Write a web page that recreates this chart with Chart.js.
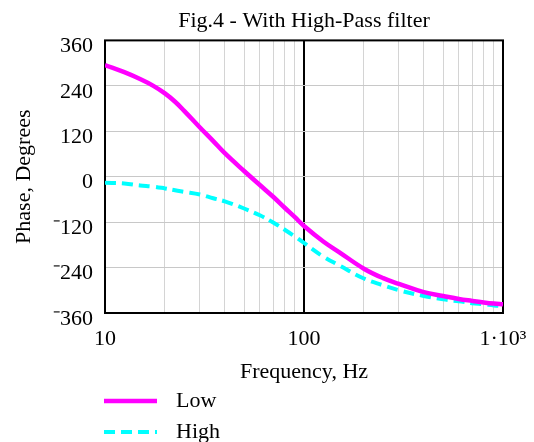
<!DOCTYPE html>
<html>
<head>
<meta charset="utf-8">
<title>Fig.4 - With High-Pass filter</title>
<script src="https://cdn.jsdelivr.net/npm/chart.js@4"></script>
<style>
  html, body { margin: 0; padding: 0; background: #fff; }
  canvas { display: block; }
</style>
</head>
<body>
<canvas id="phaseChart" width="534" height="442"></canvas>
<script>
const freqs = [10, 12.5, 15, 17.5, 20, 22.5, 25, 30, 35, 40, 50, 60, 70, 80, 90, 100, 125, 150, 200, 250, 300, 400, 500, 600, 700, 800, 900, 1000];
const phaseLow = [295, 276, 258, 240, 220, 198, 174, 130, 94, 62, 15, -22, -53, -82, -107, -130, -171, -199, -243, -268, -283, -305, -315, -323, -328, -332, -335, -337];
const phaseHigh = [-16, -18, -23, -26, -31, -36, -40, -47, -57, -65, -84, -102, -121, -140, -158, -175, -211, -234, -269, -287, -300, -315, -324, -329, -334, -337, -340, -342];

// grid lines on the frequency axis, labels only on the decades
const freqGrid = [10, 20, 30, 40, 50, 60, 70, 80, 90, 100, 200, 300, 400, 500, 600, 700, 800, 900, 1000];
const decadeLabels = { 10: '10', 100: '100', 1000: '1\u00b710\u00b3' };

const serif = "'Liberation Serif', 'Times New Roman', serif";
Chart.defaults.font.family = serif;
Chart.defaults.font.size = 22;
Chart.defaults.color = '#000';

const toPoints = vals => freqs.map((f, i) => ({ x: f, y: vals[i] }));

// black box round the plot area
const frame = {
    id: 'frame',
    beforeDatasetsDraw(chart) {
        const { ctx, chartArea: a } = chart;
        ctx.save();
        ctx.strokeStyle = '#000';
        ctx.lineWidth = 2;
        ctx.strokeRect(a.left, a.top, a.right - a.left, a.bottom - a.top);
        ctx.restore();
    }
};

// legend stacked in rows under the axis title
const rowLegend = {
    id: 'rowLegend',
    afterDraw(chart) {
        const { ctx } = chart;
        const x0 = chart.chartArea.left - 1;
        const y0 = chart.scales.x.bottom + 12;
        ctx.save();
        chart.data.datasets.forEach((ds, i) => {
            const y = y0 + i * 31;
            ctx.beginPath();
            ctx.strokeStyle = ds.borderColor;
            ctx.lineWidth = ds.borderWidth;
            ctx.setLineDash(ds.borderDash || []);
            ctx.moveTo(x0, y);
            ctx.lineTo(x0 + 53, y);
            ctx.stroke();
            ctx.setLineDash([]);
            ctx.fillStyle = '#000';
            ctx.font = '22px ' + serif;
            ctx.textBaseline = 'middle';
            ctx.fillText(ds.label, x0 + 72, y);
        });
        ctx.restore();
    }
};

new Chart(document.getElementById('phaseChart'), {
    type: 'line',
    data: {
        datasets: [{
            label: 'Low',
            data: toPoints(phaseLow),
            borderColor: '#ff00ff',
            borderWidth: 4.5,
            pointRadius: 0,
            tension: 0.4,
            fill: false
        }, {
            label: 'High',
            data: toPoints(phaseHigh),
            borderColor: '#00ffff',
            borderWidth: 4,
            borderDash: [11, 6],
            pointRadius: 0,
            tension: 0.4,
            fill: false
        }]
    },
    options: {
        responsive: false,
        animation: false,
        layout: { padding: { left: 7, right: 31, top: 0, bottom: 53 } },
        plugins: {
            legend: { display: false },
            tooltip: { enabled: false },
            title: {
                display: true,
                text: 'Fig.4 - With High-Pass filter',
                fullSize: false,
                color: '#000',
                font: { size: 22, weight: 'normal' },
                padding: { top: 8, bottom: 6 }
            }
        },
        scales: {
            x: {
                type: 'logarithmic',
                min: 10,
                max: 1000,
                afterBuildTicks: scale => {
                    scale.ticks = freqGrid.map(v => ({ value: v }));
                },
                afterFit: scale => {
                    scale.height = 76;
                    scale.paddingLeft = 0;
                    scale.paddingRight = 0;
                },
                ticks: {
                    autoSkip: false,
                    maxRotation: 0,
                    padding: 13,
                    callback: v => decadeLabels[v] || ''
                },
                grid: {
                    drawTicks: false,
                    color: ctx => (ctx.tick && ctx.tick.value === 100 ? '#000' : '#d4d4d4'),
                    lineWidth: ctx => (ctx.tick && ctx.tick.value === 100 ? 2 : 1)
                },
                border: { display: false },
                title: {
                    display: true,
                    text: 'Frequency, Hz',
                    padding: { top: 8, bottom: 4 }
                }
            },
            y: {
                min: -360,
                max: 360,
                afterFit: scale => { scale.width = 98; },
                ticks: {
                    stepSize: 120,
                    padding: 12,
                    labelOffset: 6,
                    callback: v => (v < 0 ? '\u207b' + Math.abs(v) : String(v))
                },
                grid: { drawTicks: false, color: '#c8c8c8', lineWidth: 1 },
                border: { display: false },
                title: {
                    display: true,
                    text: 'Phase, Degrees',
                    padding: { top: 4, bottom: 4 }
                }
            }
        }
    },
    plugins: [frame, rowLegend]
});
</script>
</body>
</html>
